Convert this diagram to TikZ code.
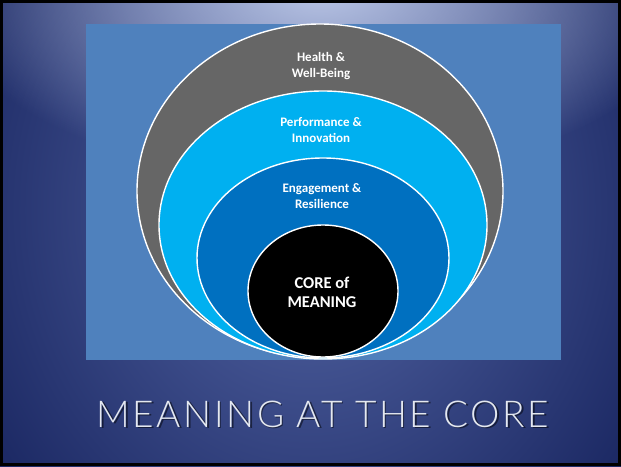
\documentclass[tikz,border=0pt]{standalone}
\usepackage{fontspec}
\usetikzlibrary{fadings}
\setmainfont{Carlito}
\newfontfamily\titlefont[LetterSpace=7]{Lato Light}
\definecolor{panel}{HTML}{4F81BD}
\definecolor{grayring}{HTML}{666666}
\definecolor{lightring}{HTML}{00B0F0}
\definecolor{midring}{HTML}{0070C0}
\definecolor{bglight}{HTML}{BAC6E6}
\definecolor{bgmid}{HTML}{5567A6}
\definecolor{bgdark}{HTML}{1C2964}
\definecolor{titlecol}{HTML}{E4E8F0}
\tikzfading[name=softfade, inner color=transparent!0, outer color=transparent!100]
\tikzset{
  ring/.style={draw=white, line width=1.4pt},
  lbl/.style={text=white, font=\bfseries\fontsize{13}{16}\selectfont, align=center},
  corelbl/.style={text=white, font=\bfseries\fontsize{16.5}{19}\selectfont, align=center}
}
\begin{document}
\begin{tikzpicture}[x=1pt,y=-1pt]
\useasboundingbox (0,0) rectangle (621,466);
\fill[bgdark] (0,0) rectangle (621,466);
\begin{scope}
\clip (0,0) rectangle (621,466);
\shade[inner color=bgmid, outer color=bgdark] (-70,-220) rectangle (690,640);
\fill[bglight, path fading=softfade] (320,-10) ellipse (380 and 190);
\end{scope}
\fill[panel] (86,24) rectangle (561,360);
\draw[ring, fill=grayring] (320,191) ellipse (183 and 167);
\draw[ring, fill=lightring] (323,225) ellipse (164 and 134);
\draw[ring, fill=midring] (323,258) ellipse (126 and 100);
\draw[ring, fill=black] (323,291) ellipse (75 and 66);
\node[lbl] (health) at (321,66) {Health \&\\Well-Being};
\node[lbl] (perf) at (321,130) {Performance \&\\Innovation};
\node[lbl] (eng) at (322,196) {Engagement \&\\Resilience};
\node[corelbl] (core) at (322,292) {CORE of\\MEANING};
\node[text=black, opacity=0.5, font=\titlefont\fontsize{37}{40}\selectfont] (titleshadow) at (324.5,415.5) {MEANING AT THE CORE};
\node[text=titlecol, font=\titlefont\fontsize{37}{40}\selectfont] (title) at (323,414) {MEANING AT THE CORE};
\draw[black, line width=3pt] (1.5,1.5) rectangle (619.5,464.5);
\end{tikzpicture}
\end{document}
